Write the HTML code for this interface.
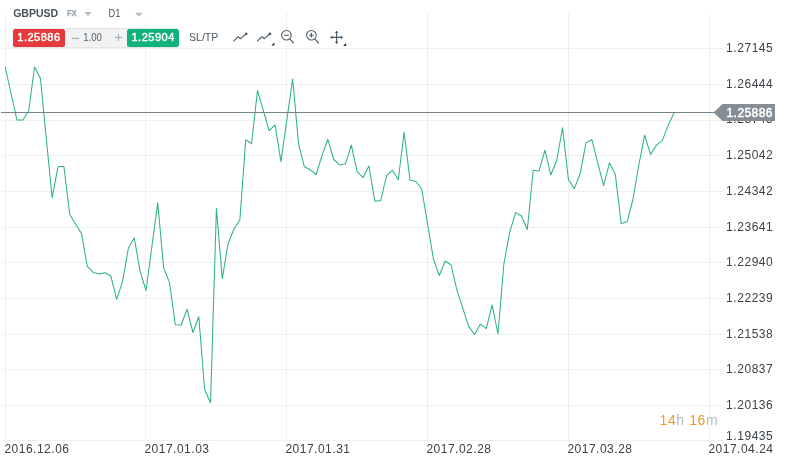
<!DOCTYPE html>
<html><head><meta charset="utf-8">
<style>
html,body{margin:0;padding:0;background:#fff;}
body{width:787px;height:464px;overflow:hidden;position:relative;font-family:"Liberation Sans",sans-serif;}
svg{position:absolute;left:0;top:0;will-change:transform;}
.t{position:absolute;white-space:nowrap;line-height:1;}
</style></head><body>
<svg width="787" height="464" viewBox="0 0 787 464">
<g stroke="#edf0f2" stroke-width="1" shape-rendering="crispEdges">
<line x1="2" y1="48.50" x2="724" y2="48.50"/>
<line x1="2" y1="84.50" x2="724" y2="84.50"/>
<line x1="2" y1="120.50" x2="724" y2="120.50"/>
<line x1="2" y1="155.50" x2="724" y2="155.50"/>
<line x1="2" y1="191.50" x2="724" y2="191.50"/>
<line x1="2" y1="227.50" x2="724" y2="227.50"/>
<line x1="2" y1="262.50" x2="724" y2="262.50"/>
<line x1="2" y1="298.50" x2="724" y2="298.50"/>
<line x1="2" y1="334.50" x2="724" y2="334.50"/>
<line x1="2" y1="369.50" x2="724" y2="369.50"/>
<line x1="2" y1="405.50" x2="724" y2="405.50"/>
<line x1="2" y1="440.50" x2="724" y2="440.50"/>
<line x1="5.5" y1="13" x2="5.5" y2="443"/>
<line x1="145.5" y1="13" x2="145.5" y2="443"/>
<line x1="286.5" y1="13" x2="286.5" y2="443"/>
<line x1="427.5" y1="13" x2="427.5" y2="443"/>
<line x1="568.5" y1="13" x2="568.5" y2="443"/>
<line x1="709.5" y1="13" x2="709.5" y2="443"/>
</g>
<polyline points="5.20,67.00 16.93,120.00 22.80,120.00 28.67,111.30 34.53,67.00 40.40,78.30 52.13,197.80 58.00,166.70 63.87,166.20 69.73,214.40 75.60,224.00 81.47,233.60 87.33,266.40 93.20,272.40 99.07,274.10 104.93,272.80 110.80,275.80 116.67,299.30 122.53,281.70 128.40,248.10 134.27,237.80 140.13,271.40 146.00,290.50 157.73,202.90 163.60,267.80 169.47,282.40 175.33,324.70 181.20,325.00 187.07,309.10 192.93,332.50 198.80,316.70 204.67,389.70 210.53,402.70 216.40,208.40 222.27,278.60 228.13,243.50 234.00,229.00 239.87,219.80 245.73,139.70 251.60,143.50 257.47,90.50 269.20,130.60 275.07,125.00 280.93,161.60 292.67,79.00 298.53,143.70 304.40,166.80 310.27,169.80 316.13,174.50 322.00,155.40 327.87,139.30 333.73,159.50 339.60,164.90 345.47,163.80 351.33,145.10 357.20,171.60 363.07,177.60 368.93,166.00 374.80,201.20 380.67,200.50 386.53,175.90 392.40,170.20 398.27,179.80 404.13,132.20 410.00,180.10 415.87,181.50 421.73,189.00 433.47,259.30 439.33,275.50 445.20,261.00 451.07,265.00 456.93,290.20 468.67,326.40 474.53,334.50 480.40,324.10 486.27,328.60 492.13,305.10 498.00,334.00 503.87,264.00 509.73,232.10 515.60,212.60 521.47,216.00 527.33,229.50 533.20,170.30 539.07,170.90 544.93,150.20 550.80,174.80 556.67,160.50 562.53,127.80 568.40,179.50 574.27,188.60 580.13,173.80 586.00,142.90 591.87,139.70 603.60,185.60 609.47,162.80 615.33,174.60 621.20,223.50 627.07,221.80 632.93,199.50 638.80,165.00 644.67,135.20 650.53,154.40 656.40,145.10 662.27,140.60 668.13,125.40 674.00,113.00" fill="none" stroke="#2db57b" stroke-width="1.05" stroke-linejoin="round"/>
<line x1="1" y1="112.5" x2="716" y2="112.5" stroke="#76828a" stroke-width="1.2"/>
<g font-family="Liberation Sans" font-size="12" fill="#3b4248" >
<text x="726" y="52.3" textLength="46.8" lengthAdjust="spacing">1.27145</text>
<text x="726" y="88.3" textLength="46.8" lengthAdjust="spacing">1.26444</text>
<text x="726" y="123.3" textLength="46.8" lengthAdjust="spacing">1.25743</text>
<text x="726" y="159.3" textLength="46.8" lengthAdjust="spacing">1.25042</text>
<text x="726" y="195.3" textLength="46.8" lengthAdjust="spacing">1.24342</text>
<text x="726" y="231.3" textLength="46.8" lengthAdjust="spacing">1.23641</text>
<text x="726" y="266.3" textLength="46.8" lengthAdjust="spacing">1.22940</text>
<text x="726" y="302.3" textLength="46.8" lengthAdjust="spacing">1.22239</text>
<text x="726" y="338.3" textLength="46.8" lengthAdjust="spacing">1.21538</text>
<text x="726" y="373.3" textLength="46.8" lengthAdjust="spacing">1.20837</text>
<text x="726" y="409.3" textLength="46.8" lengthAdjust="spacing">1.20136</text>
<text x="726" y="440.0" textLength="46.8" lengthAdjust="spacing">1.19435</text>
<text x="4.4" y="452.8" textLength="64.6" lengthAdjust="spacing">2016.12.06</text>
<text x="144.4" y="452.8" textLength="64.6" lengthAdjust="spacing">2017.01.03</text>
<text x="285.4" y="452.8" textLength="64.6" lengthAdjust="spacing">2017.01.31</text>
<text x="426.4" y="452.8" textLength="64.6" lengthAdjust="spacing">2017.02.28</text>
<text x="567.4" y="452.8" textLength="64.6" lengthAdjust="spacing">2017.03.28</text>
<text x="708.4" y="452.8" textLength="64.6" lengthAdjust="spacing">2017.04.24</text>
</g>
<path d="M713.5 112.5 L722.5 104 L775 104 L775 121 L722.5 121 Z" fill="#858e94"/>
<text x="726.5" y="116.7" font-family="Liberation Sans" font-size="12" fill="#fff" stroke="#fff" stroke-width="0.5" textLength="46" lengthAdjust="spacing">1.25886</text>
<!-- countdown -->
<text x="659.6" y="424.8" font-family="Liberation Sans" font-size="14" textLength="58" lengthAdjust="spacing"><tspan fill="#f4991f">14</tspan><tspan fill="#b5bbc0">h </tspan><tspan fill="#f4991f">16</tspan><tspan fill="#b5bbc0">m</tspan></text>
<!-- header -->
<text x="13.2" y="16.9" font-family="Liberation Sans" font-size="10.8" font-weight="bold" fill="#45515b" textLength="45" lengthAdjust="spacingAndGlyphs">GBPUSD</text>
<text x="66.9" y="16.2" font-family="Liberation Sans" font-size="8.4" font-weight="bold" fill="#93a3ae" stroke="#93a3ae" stroke-width="0.25" textLength="9.8" lengthAdjust="spacingAndGlyphs">FX</text>
<path d="M84.2 12 L91.8 12 L88 16 Z" fill="#b9bec2"/>
<rect x="100" y="0" width="50" height="22" fill="#fff"/>
<text x="108.4" y="16.9" font-family="Liberation Sans" font-size="10.7" fill="#4a555e" textLength="12" lengthAdjust="spacingAndGlyphs">D1</text>
<path d="M135 12.8 L142.8 12.8 L138.9 16.6 Z" fill="#b9bdc1"/>
<rect x="12" y="28" width="166" height="20" fill="#f0f2f4"/>
<line x1="12" y1="28.5" x2="178" y2="28.5" stroke="#e2e6e9" stroke-width="1"/>
<line x1="12" y1="47.5" x2="178" y2="47.5" stroke="#e2e6e9" stroke-width="1"/>
<rect x="13" y="29" width="52" height="18" rx="2.5" fill="#e43a3b"/>
<text x="17.3" y="40.8" font-family="Liberation Sans" font-size="11" fill="#fff" stroke="#fff" stroke-width="0.45" textLength="42.8" lengthAdjust="spacing">1.25886</text>
<line x1="71.8" y1="38.4" x2="79" y2="38.4" stroke="#9ba1a6" stroke-width="1"/>
<text x="83.2" y="41" font-family="Liberation Sans" font-size="10.4" fill="#5d6266" textLength="18.8" lengthAdjust="spacingAndGlyphs">1.00</text>
<path d="M115 37.4 H122 M118.5 33.8 V41" stroke="#a3a8ad" stroke-width="1" fill="none"/>
<rect x="127" y="29" width="52" height="18" rx="2.5" fill="#12b27b"/>
<text x="131.5" y="40.8" font-family="Liberation Sans" font-size="11" fill="#fff" stroke="#fff" stroke-width="0.45" textLength="42.8" lengthAdjust="spacing">1.25904</text>
<text x="188.9" y="41.3" font-family="Liberation Sans" font-size="10.6" fill="#4f5b66" textLength="29.6" lengthAdjust="spacingAndGlyphs">SL/TP</text>
<g stroke="#4b5862" stroke-width="1.1" fill="none" stroke-linejoin="round" stroke-linecap="butt">
<path d="M233.4 41.3 L238.2 36.7 L240.7 38.7 L246.1 33.9"/>
<path d="M257.2 41.3 L262 36.7 L264.5 38.7 L269.9 33.9"/>
<rect x="279" y="29.5" width="17" height="15.3" fill="#fff" stroke="none"/>
<circle cx="286.4" cy="35.2" r="4.8" stroke-width="1.05"/>
<path d="M284 35.2 H288.8"/>
<path d="M289.8 38.8 L293.8 43.4"/>
<circle cx="311.4" cy="35.2" r="4.8" stroke-width="1.05"/>
<path d="M309 35.2 H313.8 M311.4 32.8 V37.6"/>
<path d="M314.8 38.8 L318.8 43.4"/>
<path d="M330.8 37.4 H342.4 M336.6 31.4 V43.4"/>
</g>
<g fill="#4b5862">
<circle cx="246.1" cy="33.9" r="1.4"/>
<circle cx="269.9" cy="33.9" r="1.4"/>
<path d="M330.2 37.4 L332.4 35.6 L332.4 39.2 Z M343 37.4 L340.8 35.6 L340.8 39.2 Z M336.6 30.8 L334.8 33 L338.4 33 Z M336.6 44 L334.8 41.8 L338.4 41.8 Z"/>
</g>
<g fill="#1f2326">
<path d="M274.4 42.6 L274.4 45.6 L271.4 45.6 Z"/>
<path d="M346.2 43 L346.2 46 L343.2 46 Z"/>
</g>
</svg>
</body></html>
